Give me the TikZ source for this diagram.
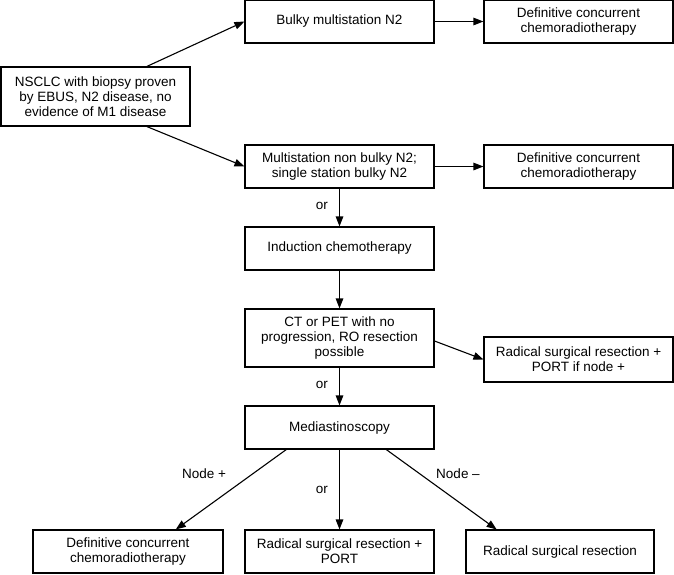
\documentclass[tikz,border=0pt]{standalone}
\usepackage{fontspec}
\setmainfont{Liberation Sans}
\usetikzlibrary{arrows.meta,calc}
\begin{document}
\begin{tikzpicture}[x=1pt,y=-1pt,
  box/.style={draw,line width=1.1pt,align=center,inner sep=0pt,minimum width=189pt,minimum height=43pt,
    font=\fontsize{13.5}{15}\selectfont},
  arr/.style={line width=1.1pt,-{Triangle[length=10pt,width=7.5pt]}},
  lab/.style={font=\fontsize{13.5}{15}\selectfont,inner sep=0pt}]
\useasboundingbox (0,0) rectangle (674,574);
\node[box,minimum width=189pt,minimum height=59pt] (nsclc) at (95.5,96.5) {NSCLC with biopsy proven\\by EBUS, N2 disease, no\\evidence of M1 disease};
\node[box] (bulky) at (339.5,21.5) {Bulky multistation N2};
\node[box] (def1) at (578.5,21.5) {Definitive concurrent\\chemoradiotherapy};
\node[box] (multi) at (339.5,166.5) {Multistation non bulky N2;\\single station bulky N2};
\node[box] (def2) at (578.5,166.5) {Definitive concurrent\\chemoradiotherapy};
\node[box] (induct) at (339.5,248.5) {Induction chemotherapy};
\node[box,minimum height=58pt] (ct) at (339.5,338) {CT or PET with no\\progression, RO resection\\possible};
\node[box,minimum height=45pt] (radport) at (578.5,359.5) {Radical surgical resection +\\PORT if node +};
\node[box] (medi) at (339.5,427.5) {Mediastinoscopy};
\node[box,minimum width=190pt] (b1) at (128,551.5) {Definitive concurrent\\chemoradiotherapy};
\node[box] (b2) at (339.5,551.5) {Radical surgical resection +\\PORT};
\node[box,minimum width=188pt] (b3) at (560,551.5) {Radical surgical resection};

\draw[arr] ($(nsclc.north west)!0.77!(nsclc.north east)$) -- (bulky.west);
\draw[arr] ($(nsclc.south west)!0.77!(nsclc.south east)$) -- (multi.west);
\draw[arr] (bulky) -- (def1);
\draw[arr] (multi) -- (def2);
\draw[arr] (multi) -- node[lab,pos=0.45,left=11pt] (or1) {or} (induct);
\draw[arr] (induct) -- (ct);
\draw[arr] ([yshift=-3pt]ct.east) -- (radport.west);
\draw[arr] (ct) -- node[lab,pos=0.45,left=11pt] (or2) {or} (medi);
\draw[arr] ($(medi.south west)!0.22!(medi.south east)$) -- ($(b1.north west)!0.75!(b1.north east)$);
\draw[arr] (medi) -- node[lab,pos=0.5,left=11pt] (or3) {or} (b2);
\draw[arr] ($(medi.south west)!0.746!(medi.south east)$) -- ($(b3.north west)!0.165!(b3.north east)$);
\node[lab] (np) at (204,474) {Node +};
\node[lab] (nm) at (458,474) {Node –};
\end{tikzpicture}
\end{document}
